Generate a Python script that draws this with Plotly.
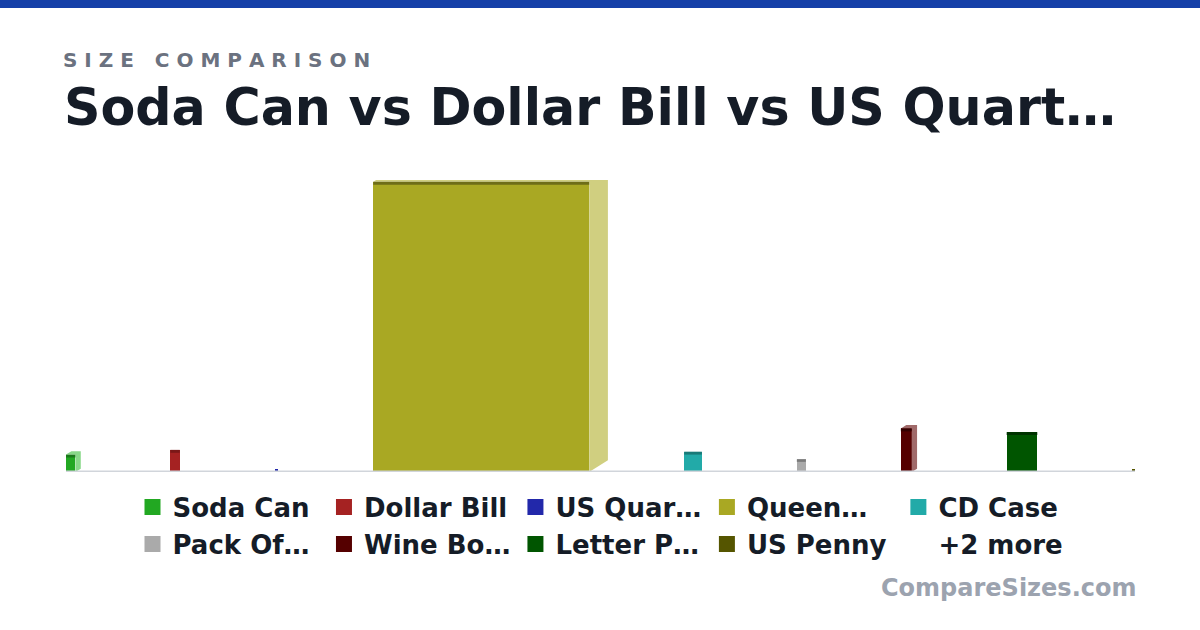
import plotly.graph_objects as go

names = ["Soda Can", "Dollar Bill", "US Quar…", "Queen…", "CD Case", "Pack Of…", "Wine Bo…", "Letter P…", "US Penny"]
widths = [2.6, 2.6, 0.96, 60, 4.9, 2.5, 3.0, 8.5, 0.75]
heights = [4.8, 6.1, 0.96, 80, 5.6, 3.5, 12, 11, 0.75]
depths = [1.5, 0, 0, 5.2, 0, 0, 1.5, 0, 0]
colors = ["#22a822", "#a52222", "#2228aa", "#a9a823", "#22aaa8", "#aaaaaa", "#550000", "#005500", "#555500"]
tops = ["#1a7a1a", "#7a1818", "#181c80", "#6e6d18", "#187a78", "#7a7a7a", "#330000", "#003300", "#333300"]
sides = ["#88d888", "#d89090", "#8888d8", "#d0cf80", "#88d8d8", "#d0d0d0", "#a06a6a", "#70a070", "#a0a070"]
gap = 26.4

xs = []
cur = 0.0
for w in widths:
    xs.append(cur + w / 2)
    cur += w + gap
xmax = cur - gap

fig = go.Figure()
for x, w, h, d, s in zip(xs, widths, heights, depths, sides):
    if d > 0:
        dy = d * 0.62
        x1 = x + w / 2
        fig.add_trace(go.Scatter(x=[x1, x1 + d, x1 + d, x1 - w + d, x - w / 2, x1, x1],
                                 y=[0, dy, h + dy, h + dy, h, h, 0], fill="toself", fillcolor=s,
                                 line=dict(width=0), mode="lines", showlegend=False, hoverinfo="skip"))
for n, x, w, h, c in zip(names, xs, widths, heights, colors):
    fig.add_trace(go.Bar(x=[x], y=[h], width=[w], showlegend=False, marker=dict(color=c, line=dict(width=0))))
for x, w, h, t in zip(xs, widths, heights, tops):
    st = min(0.8, h * 0.2)
    fig.add_trace(go.Scatter(x=[x - w / 2, x + w / 2, x + w / 2, x - w / 2, x - w / 2],
                             y=[h - st, h - st, h, h, h - st], fill="toself", fillcolor=t,
                             line=dict(width=0), mode="lines", showlegend=False, hoverinfo="skip"))
for n, c in zip(names, colors):
    fig.add_trace(go.Scatter(x=[None], y=[None], name="<b>" + n + "</b>", mode="markers",
                             marker=dict(symbol="square", size=18, color=c)))
fig.add_trace(go.Scatter(x=[None], y=[None], name="<b>+2 more</b>", mode="markers",
                         marker=dict(size=0, color="white", opacity=0), showlegend=True))

fig.update_layout(
    width=1200, height=630, margin=dict(l=66, r=65, t=180, b=158),
    paper_bgcolor="white", plot_bgcolor="white", barmode="overlay", bargap=0,
    xaxis=dict(range=[0, xmax], visible=False, fixedrange=True),
    yaxis=dict(range=[0, 80.5], visible=False),
    showlegend=True,
    legend=dict(orientation="h", x=0.5, xanchor="center", y=-0.04, yanchor="top",
                font=dict(family="DejaVu Sans", size=26, color="#151c27"), itemwidth=30,
                traceorder="normal"),
    font=dict(family="DejaVu Sans"),
    shapes=[
        dict(type="rect", xref="paper", yref="paper", x0=-0.1, x1=1.1, y0=(630 - 8 - 158) / 292, y1=2, fillcolor="#1540a8", line=dict(width=0), layer="above"),
        dict(type="line", xref="paper", yref="y", x0=0, x1=1, y0=0, y1=0, line=dict(color="#d1d5db", width=3)),
    ],
    annotations=[
        dict(text="<b>S I Z E   C O M P A R I S O N</b>", xref="paper", yref="paper", x=-0.005, y=(630 - 158 - 60) / 292,
             xanchor="left", yanchor="middle", showarrow=False, font=dict(size=20, color="#6b7280")),
        dict(text="<b>Soda Can vs Dollar Bill vs US Quart…</b>", xref="paper", yref="paper", x=-0.004, y=(630 - 158 - 108) / 292,
             xanchor="left", yanchor="middle", showarrow=False, font=dict(size=50.7, color="#151c27")),
        dict(text="<b>CompareSizes.com</b>", xref="paper", yref="paper", x=1.003, y=(630 - 158 - 588) / 292,
             xanchor="right", yanchor="middle", showarrow=False, font=dict(size=24, color="#9ca3af")),
    ],
)
fig.write_html("out.html", config={"displayModeBar": False},
               post_script="document.body.style.margin='0';document.body.style.padding='0';")
